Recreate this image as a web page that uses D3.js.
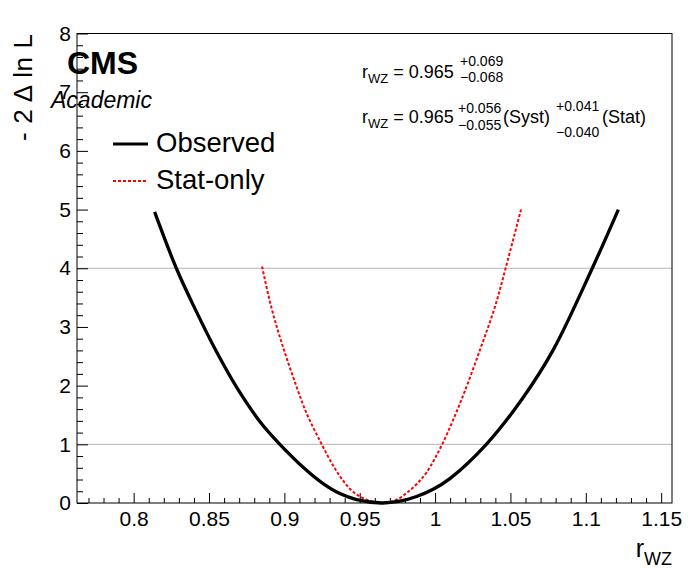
<!DOCTYPE html>
<html>
<head>
<meta charset="utf-8">
<script src="https://cdn.jsdelivr.net/npm/d3@7"></script>
<style>
  body { margin: 0; background: #fff; }
  svg { display: block; font-family: "Liberation Sans", Arial, sans-serif; }
</style>
</head>
<body>
<svg id="chart" width="696" height="572"></svg>
<script>
// likelihood scan
const obsX = [0.8139, 0.8283, 0.8405, 0.8549, 0.8693, 0.8837, 0.897, 0.9147, 0.9257, 0.9368, 0.9479, 0.9645, 0.9766, 0.9877, 0.9987, 1.0098, 1.034, 1.0574, 1.0784, 1.1043, 1.1216];
const obsY = [4.96, 4.0, 3.32, 2.58, 1.93, 1.39, 1.0, 0.557, 0.33, 0.16, 0.058, 0.0, 0.03, 0.11, 0.233, 0.415, 1.0, 1.76, 2.61, 4.0, 5.0];

const statX = [0.8852, 0.8904, 0.8959, 0.9015, 0.9081, 0.9147, 0.924, 0.9323, 0.939, 0.9456, 0.9545, 0.9655, 0.9744, 0.981, 0.9877, 0.9943, 1.0047, 1.0175, 1.0298, 1.0398, 1.0468, 1.057];
const statY = [4.03, 3.43, 2.92, 2.47, 1.98, 1.53, 1.04, 0.64, 0.38, 0.19, 0.058, 0.0, 0.055, 0.17, 0.32, 0.52, 1.0, 1.76, 2.61, 3.35, 4.0, 5.0];

const xTicks = [0.8, 0.85, 0.9, 0.95, 1, 1.05, 1.1, 1.15];
const yTicks = [0, 1, 2, 3, 4, 5, 6, 7, 8];
const gridLevels = [1, 4];

const svg = d3.select('#chart');
const fLeft = 77, fRight = 672, fTop = 33.5, fBottom = 503;

const x = d3.scaleLinear().domain([0.7624, 1.1572]).range([fLeft, fRight]);
const y = d3.scaleLinear().domain([0, 8]).range([fBottom, fTop]);

// grid lines at 1 and 4
svg.append('g')
    .selectAll('line')
    .data(gridLevels)
    .join('line')
        .attr('x1', fLeft).attr('x2', fRight)
        .attr('y1', d => y(d)).attr('y2', d => y(d))
        .attr('stroke', '#b4b4b4').attr('stroke-width', 1);

// axes: ticks point inward like ROOT
const xMinor = d3.range(0.77, 1.1572, 0.01).filter(v => Math.abs(Math.round(v * 20) - v * 20) > 1e-6);
svg.append('g')
    .attr('transform', `translate(0,${fBottom})`)
    .call(d3.axisBottom(x).tickValues(xMinor).tickSize(-5).tickFormat(''))
    .call(g => g.select('.domain').remove());
svg.append('g')
    .attr('transform', `translate(0,${fBottom})`)
    .call(d3.axisBottom(x).tickValues(xTicks).tickSize(-10).tickPadding(0).tickFormat(d => d3.format('')(d)))
    .call(g => g.select('.domain').remove())
    .call(g => g.selectAll('text').attr('y', 23).attr('dy', 0).attr('font-size', 21).attr('font-family', 'Liberation Sans'));

const yMinor = d3.range(0.2, 8, 0.2).filter(v => Math.abs(Math.round(v) - v) > 1e-6);
svg.append('g')
    .attr('transform', `translate(${fLeft},0)`)
    .call(d3.axisLeft(y).tickValues(yMinor).tickSize(-6).tickFormat(''))
    .call(g => g.select('.domain').remove());
svg.append('g')
    .attr('transform', `translate(${fLeft},0)`)
    .call(d3.axisLeft(y).tickValues(yTicks).tickSize(-11).tickFormat(d3.format('d')))
    .call(g => g.select('.domain').remove())
    .call(g => g.selectAll('text').attr('x', -6).attr('font-size', 21).attr('font-family', 'Liberation Sans'));

svg.selectAll('.tick line').attr('stroke', '#000');

// frame
svg.append('rect')
    .attr('x', fLeft).attr('y', fTop)
    .attr('width', fRight - fLeft).attr('height', fBottom - fTop)
    .attr('fill', 'none').attr('stroke', '#000').attr('stroke-width', 1);

// curves
const line = d3.line()
    .x(d => x(d[0]))
    .y(d => y(d[1]))
    .curve(d3.curveCatmullRom.alpha(0.5));

svg.append('path')
    .datum(d3.zip(statX, statY))
    .attr('d', line)
    .attr('fill', 'none').attr('stroke', '#ff0000')
    .attr('stroke-width', 2).attr('stroke-dasharray', '3,2');

svg.append('path')
    .datum(d3.zip(obsX, obsY))
    .attr('d', line)
    .attr('fill', 'none').attr('stroke', '#000')
    .attr('stroke-width', 3.3);

// axis titles
svg.append('text')
    .attr('transform', 'translate(32,34) rotate(-90)')
    .attr('text-anchor', 'end')
    .attr('font-size', 26)
    .attr('textLength', 107).attr('lengthAdjust', 'spacing')
    .text('- 2 Δ ln L');

const xt = svg.append('text')
    .attr('x', fRight).attr('y', 557)
    .attr('text-anchor', 'end')
    .attr('font-size', 25);
xt.append('tspan').text('r');
xt.append('tspan').attr('dy', 8).attr('font-size', 18).text('WZ');

// CMS label
svg.append('text')
    .attr('x', 67).attr('y', 74)
    .attr('font-size', 32).attr('font-weight', 'bold')
    .text('CMS');
svg.append('text')
    .attr('x', 51).attr('y', 108)
    .attr('font-size', 23).attr('font-style', 'italic')
    .text('Academic');

// legend
const legend = [
    { label: 'Observed', color: '#000', width: 3, dash: null, y: 144 },
    { label: 'Stat-only', color: '#ff0000', width: 2, dash: '3,2', y: 181 }
];
const lg = svg.append('g')
    .selectAll('g')
    .data(legend)
    .join('g');
lg.append('line')
    .attr('x1', 113).attr('x2', 148)
    .attr('y1', d => d.y).attr('y2', d => d.y)
    .attr('stroke', d => d.color)
    .attr('stroke-width', d => d.width)
    .attr('stroke-dasharray', d => d.dash);
lg.append('text')
    .attr('x', 156).attr('y', d => d.y + 8)
    .attr('font-size', 27.5)
    .text(d => d.label);

// result annotations
function rwz(g, xPos, base) {
    const t = g.append('text').attr('x', xPos).attr('y', base).attr('font-size', 18);
    t.append('tspan').text('r');
    t.append('tspan').attr('dy', 5).attr('font-size', 13).text('WZ');
    t.append('tspan').attr('dy', -5).text(' = 0.965');
}
function supsub(g, xPos, supY, subY, sup, sub) {
    g.append('text').attr('x', xPos).attr('y', supY).attr('font-size', 14).text(sup);
    g.append('text').attr('x', xPos).attr('y', subY).attr('font-size', 14).text(sub);
}

const ann = svg.append('g');
rwz(ann, 362, 78);
supsub(ann, 460, 66, 82, '+0.069', '\u22120.068');

rwz(ann, 362, 123);
supsub(ann, 458, 113, 130, '+0.056', '\u22120.055');
ann.append('text').attr('x', 503).attr('y', 123).attr('font-size', 18).text('(Syst)');
supsub(ann, 556, 111, 137, '+0.041', '\u22120.040');
ann.append('text').attr('x', 602).attr('y', 123).attr('font-size', 18).text('(Stat)');
</script>
</body>
</html>
